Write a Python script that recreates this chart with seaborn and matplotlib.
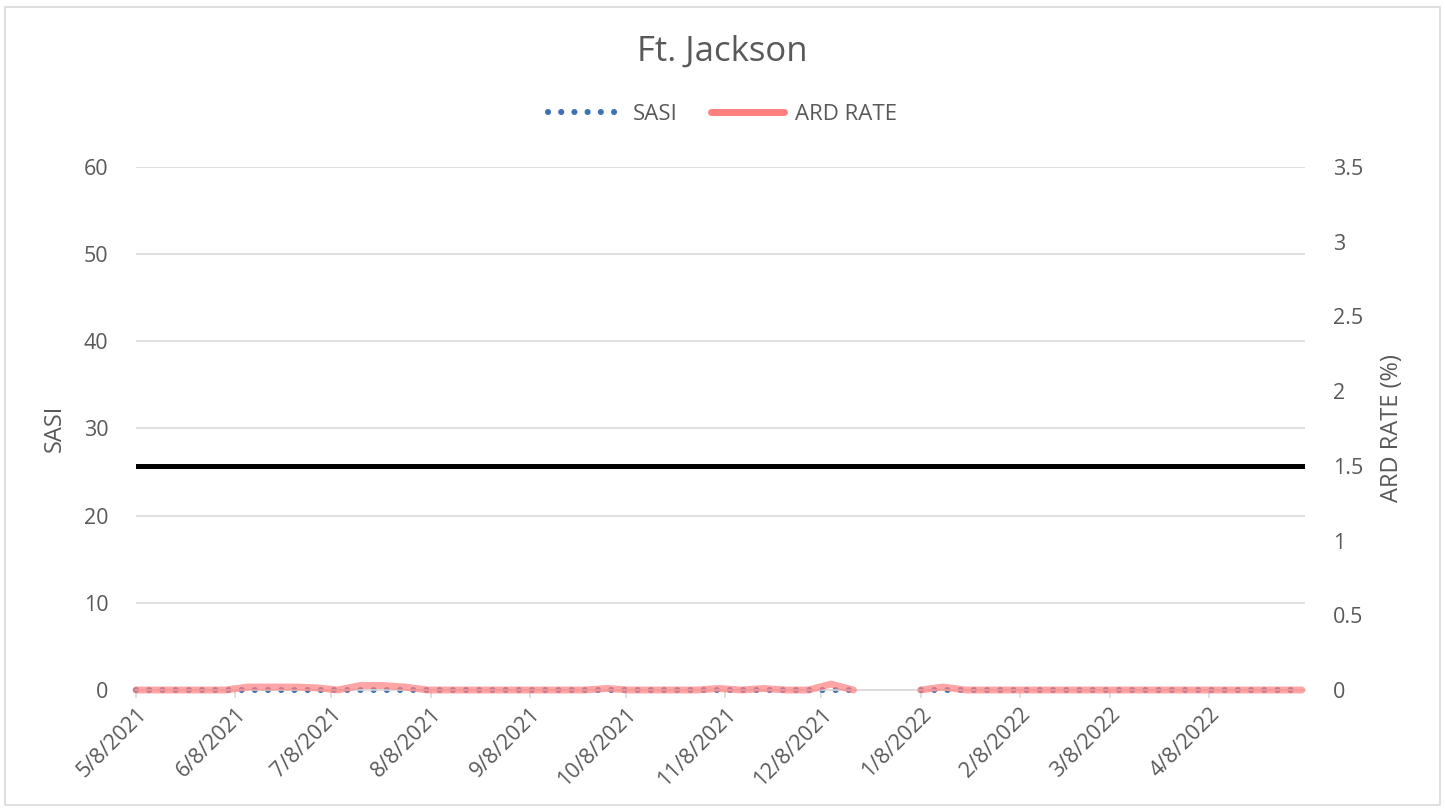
import matplotlib
matplotlib.use("Agg")
import matplotlib.pyplot as plt
from matplotlib.lines import Line2D
from matplotlib.patches import Rectangle
import numpy as np
import pandas as pd
import seaborn as sns

# ---- data ----
start_date = "2021-05-08"
n_weeks = 53
nan = np.nan
sasi = [0]*33 + [nan, nan] + [0]*18
ard_rate = [0, 0, 0, 0, 0, 0.02, 0.02, 0.02, 0.015, 0, 0.03, 0.03, 0.02, 0,
            0, 0, 0, 0, 0, 0, 0, 0.01, 0, 0, 0, 0, 0.01, 0, 0.01, 0, 0, 0.04, 0,
            nan, nan,
            0, 0.02, 0, 0, 0, 0, 0, 0, 0, 0, 0, 0, 0, 0, 0, 0, 0, 0]
threshold = 1.5
title = "Ft. Jackson"
left_ticks = [0, 10, 20, 30, 40, 50, 60]
right_ticks = [0, 0.5, 1, 1.5, 2, 2.5, 3, 3.5]
tick_dates = pd.date_range("2021-05-01", "2022-04-01", freq="MS") + pd.Timedelta(days=7)

dates = pd.date_range(start_date, periods=n_weeks, freq="7D")
df = pd.DataFrame({"date": dates, "SASI": sasi, "ARD RATE": ard_rate})
# segments separated by missing weeks so the line breaks at the gap
df["segment"] = df["ARD RATE"].isna().cumsum()
df = df.dropna()

sns.set_theme(style="white")
plt.rcParams["font.family"] = ["Open Sans", "DejaVu Sans"]
txt = "#595959"
fs = 15.5

fig = plt.figure(figsize=(14.45, 8.11), dpi=100)
ax = fig.add_axes([136/1445, 1-690/811, (1305-136)/1445, (690-167)/811])
ax2 = ax.twinx()

blue = "#3F72B5"
red = "#FF7F7F"
dot_lw = 4.4
dot_style = (0, (0.01, 2.15))

sns.lineplot(data=df, x="date", y="SASI", ax=ax, units="segment", estimator=None,
             color=blue, lw=dot_lw, linestyle=dot_style, dash_capstyle="round",
             legend=False, clip_on=False)
ax2.axhline(threshold, color="black", lw=3.6, zorder=1)
sns.lineplot(data=df, x="date", y="ARD RATE", ax=ax2, units="segment", estimator=None,
             color=red, lw=5.0, alpha=0.7, zorder=3, legend=False, clip_on=False,
             solid_capstyle="round", solid_joinstyle="round")
ax2.set_zorder(ax.get_zorder() + 1)
ax2.patch.set_visible(False)

xmin = pd.Timestamp("2021-05-08")
xmax = pd.Timestamp("2022-05-08")
ax.set_xlim(xmin, xmax)
ax.set_ylim(0, 60)
ax2.set_ylim(0, 3.5)
ax.set_yticks(left_ticks)
ax2.set_yticks(right_ticks)
ax2.set_yticklabels([f"{t:g}" for t in right_ticks])
ax.yaxis.grid(True, color="#D9D9D9", lw=1.2)
ax.xaxis.grid(False)
ax2.grid(False)

ax.set_xticks(tick_dates)
ax.set_xticklabels([f"{d.month}/{d.day}/{d.year}" for d in tick_dates],
                   rotation=45, ha="right", rotation_mode="anchor")

for a in (ax, ax2):
    for s in a.spines.values():
        s.set_visible(False)
ax.spines["bottom"].set_visible(True)
ax.spines["bottom"].set_color("#D9D9D9")
ax.spines["bottom"].set_linewidth(1.2)
ax.tick_params(axis="x", colors="#D9D9D9", length=6, width=1.2, labelcolor=txt,
               labelsize=fs, pad=4, direction="out", bottom=True)
ax.tick_params(axis="y", length=0, labelcolor=txt, labelsize=fs, pad=20)
ax2.tick_params(axis="y", length=0, labelcolor=txt, labelsize=fs, pad=20)

ax.set_xlabel("")
ax.set_ylabel("SASI", color=txt, fontsize=17, labelpad=12)
ax2.set_ylabel("ARD RATE (%)", color=txt, fontsize=17, labelpad=12)

fig.text(0.5, 1-52/811, title, ha="center", va="center", fontsize=25, color=txt)

handles = [Line2D([], [], color=blue, lw=dot_lw, linestyle=dot_style, dash_capstyle="round"),
           Line2D([], [], color=red, lw=5.0, solid_capstyle="round")]
fig.legend(handles, ["SASI", "ARD RATE"], loc="center", bbox_to_anchor=(0.5, 1-114/811),
           ncol=2, frameon=False, fontsize=16, handlelength=3.3, columnspacing=1.5,
           labelcolor=txt, handletextpad=0.5)

fig.patches.append(Rectangle((5/1445, 1-805/811), 1435/1445, 798/811, transform=fig.transFigure,
                             fill=False, edgecolor="#D9D9D9", lw=1.2))

fig.savefig("out.png", dpi=100)
